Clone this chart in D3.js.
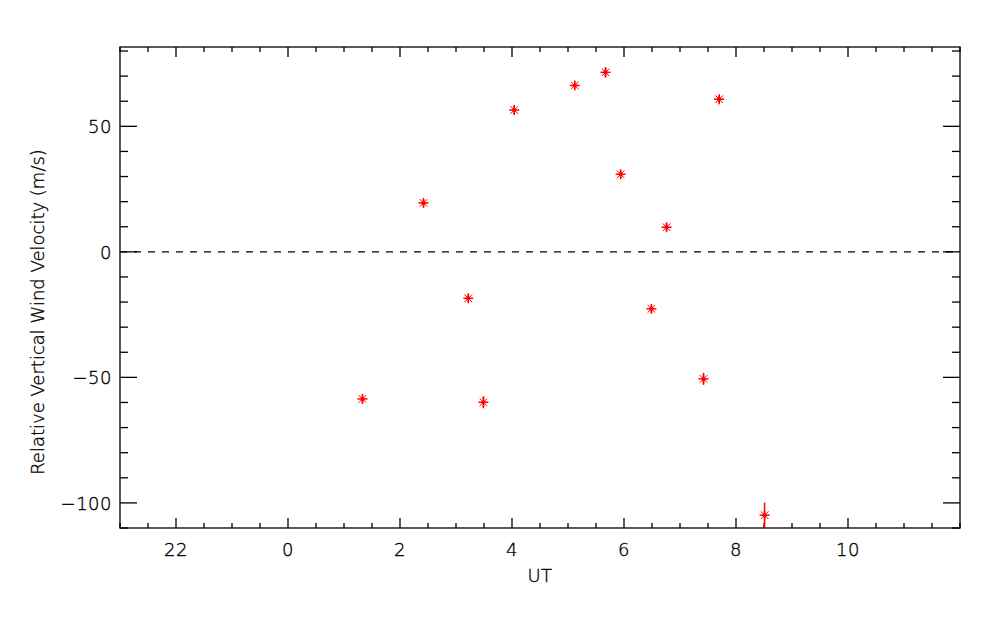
<!DOCTYPE html>
<html><head><meta charset="utf-8">
<script src="https://cdn.jsdelivr.net/npm/d3@7"></script>
<style>body{margin:0;background:#fff}svg{display:block}text{font-family:"DejaVu Sans ExtraLight","DejaVu Sans",sans-serif;font-weight:200;font-size:18px;fill:#000;stroke:#000;stroke-width:0.35px;letter-spacing:0.5px}</style>
</head><body>
<script>
// data (UT hours; negative values = previous day)
const utHours = [1.33, 2.42, 3.22, 3.49, 4.04, 5.12, 5.67, 5.94, 6.49, 6.76, 7.42, 7.70, 8.51];
const windVel = [-58.6, 19.5, -18.5, -59.9, 56.5, 66.3, 71.5, 30.9, -22.7, 9.8, -50.6, 60.8, -104.9];
const windErr = [1.5, 1.5, 1.5, 2.4, 1.5, 1.5, 2.0, 1.5, 1.5, 1.5, 2.4, 1.5, 5.0];
const xTicks = [-2, 0, 2, 4, 6, 8, 10];
const xTickLabels = ["22", "0", "2", "4", "6", "8", "10"];
const yTicks = [-100, -50, 0, 50];
const yTickLabels = ["\u2212100", "\u221250", "0", "50"];

const W = 1000, H = 625;
const L = 120, R = 960, T = 47, B = 528;
const svg = d3.select("body").append("svg").attr("width", W).attr("height", H);
const x = d3.scaleLinear().domain([-3, 12]).range([L, R]);
const y = d3.scaleLinear().domain([-110, 81.6]).range([B, T]);

const xMinor = d3.range(-3, 12.01, 0.5).filter(v => !xTicks.includes(v));
const yMinor = d3.range(-110, 81, 10).filter(v => !yTicks.includes(v));

// frame
svg.append("rect").attr("x", L).attr("y", T).attr("width", R - L).attr("height", B - T)
  .attr("fill", "none").attr("stroke", "#000").attr("stroke-width", 1.3);

const g = svg.append("g").attr("stroke", "#000").attr("stroke-width", 1.3);
function xt(vals, len) {
  vals.forEach(v => {
    g.append("line").attr("x1", x(v)).attr("x2", x(v)).attr("y1", B).attr("y2", B - len);
    g.append("line").attr("x1", x(v)).attr("x2", x(v)).attr("y1", T).attr("y2", T + len);
  });
}
xt(xTicks, 10); xt(xMinor, 5);
function yt(vals, len) {
  vals.forEach(v => {
    g.append("line").attr("y1", y(v)).attr("y2", y(v)).attr("x1", L).attr("x2", L + len);
    g.append("line").attr("y1", y(v)).attr("y2", y(v)).attr("x1", R).attr("x2", R - len);
  });
}
yt(yTicks, 17); yt(yMinor, 8);

// tick labels
xTicks.forEach((v, i) => svg.append("text").attr("x", x(v)).attr("y", 556)
  .attr("text-anchor", "middle").text(xTickLabels[i]));
yTicks.forEach((v, i) => svg.append("text").attr("x", 112).attr("y", y(v) + 7)
  .attr("text-anchor", "end").text(yTickLabels[i]));

// axis titles
svg.append("text").attr("x", x(4.5)).attr("y", 582).attr("text-anchor", "middle").text("UT");
svg.append("text").attr("transform", "translate(44,312) rotate(-90)")
  .attr("text-anchor", "middle").style("letter-spacing", "0px")
  .text("Relative Vertical Wind Velocity (m/s)");

// zero line
svg.append("line").attr("x1", L).attr("x2", R).attr("y1", y(0)).attr("y2", y(0))
  .attr("stroke", "#000").attr("stroke-width", 1.3).attr("stroke-dasharray", "7,7");

// points
const pts = svg.append("g").attr("stroke", "#f00").attr("stroke-width", 1);
utHours.forEach((u, i) => {
  const cx = x(u), cy = y(windVel[i]);
  const y1 = Math.min(B, y(windVel[i] - windErr[i])), y2 = Math.max(T, y(windVel[i] + windErr[i]));
  pts.append("line").attr("x1", cx).attr("x2", cx).attr("y1", y1).attr("y2", y2).attr("stroke-width", 1.5);
  const r = 5, d = 3.8;
  pts.append("line").attr("x1", cx - r).attr("x2", cx + r).attr("y1", cy).attr("y2", cy).attr("stroke-width", 1.5);
  pts.append("line").attr("x1", cx).attr("x2", cx).attr("y1", cy - r).attr("y2", cy + r).attr("stroke-width", 1.5);
  pts.append("line").attr("x1", cx - d).attr("x2", cx + d).attr("y1", cy - d).attr("y2", cy + d);
  pts.append("line").attr("x1", cx - d).attr("x2", cx + d).attr("y1", cy + d).attr("y2", cy - d);
  pts.append("circle").attr("cx", cx).attr("cy", cy).attr("r", 2).attr("fill", "#f00").attr("stroke", "none");
});
</script>
</body></html>
